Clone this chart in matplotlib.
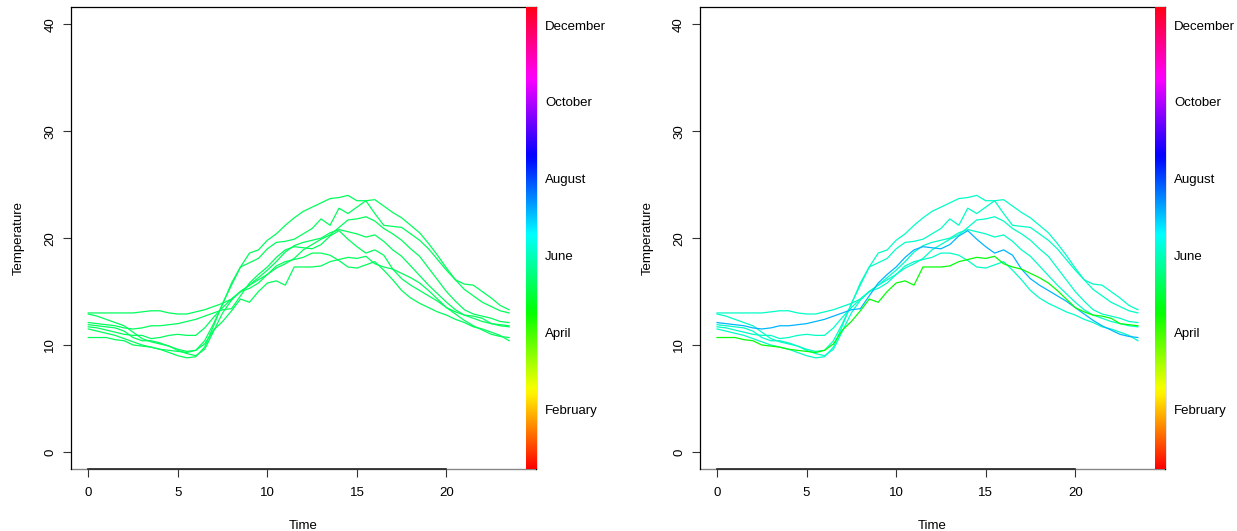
import numpy as np
import matplotlib
matplotlib.use("Agg")
import matplotlib.pyplot as plt

plt.rcParams['font.family'] = ['Liberation Sans', 'DejaVu Sans']

hours = [0.0, 0.5, 1.0, 1.5, 2.0, 2.5, 3.0, 3.5, 4.0, 4.5, 5.0, 5.5,
         6.0, 6.5, 7.0, 7.5, 8.0, 8.5, 9.0, 9.5, 10.0, 10.5, 11.0, 11.5,
         12.0, 12.5, 13.0, 13.5, 14.0, 14.5, 15.0, 15.5, 16.0, 16.5, 17.0, 17.5,
         18.0, 18.5, 19.0, 19.5, 20.0, 20.5, 21.0, 21.5, 22.0, 22.5, 23.0, 23.5]

day1 = [11.5, 11.3, 11.1, 10.9, 10.6, 10.3, 10.0, 9.8, 9.6, 9.3, 9.0, 8.8,
        8.9, 9.8, 11.8, 13.9, 15.6, 17.3, 18.6, 18.9, 19.8, 20.4, 21.2, 21.9,
        22.5, 22.9, 23.3, 23.7, 23.8, 24.0, 23.5, 23.5, 23.6, 23.0, 22.4, 21.9,
        21.2, 20.5, 19.5, 18.4, 17.2, 16.1, 15.7, 15.6, 15.0, 14.4, 13.7, 13.3]
day2 = [12.9, 12.7, 12.4, 12.1, 11.8, 11.2, 10.6, 10.3, 10.1, 9.9, 9.6, 9.4,
        9.5, 10.4, 12.0, 13.8, 15.8, 17.3, 17.7, 18.1, 19.0, 19.6, 19.7, 19.9,
        20.4, 20.9, 21.8, 21.2, 22.8, 22.3, 22.9, 23.5, 22.3, 21.2, 21.1, 21.0,
        20.4, 19.8, 19.0, 18.0, 17.0, 16.1, 15.2, 14.6, 14.0, 13.6, 13.2, 13.0]
day3 = [13.0, 13.0, 13.0, 13.0, 13.0, 13.0, 13.1, 13.2, 13.2, 13.0, 12.9, 12.9,
        13.1, 13.3, 13.6, 13.9, 14.3, 15.0, 15.6, 16.1, 16.6, 17.2, 17.6, 18.1,
        18.9, 19.4, 19.9, 20.3, 21.0, 21.7, 21.8, 22.0, 21.6, 20.9, 20.4, 19.8,
        19.0, 18.3, 17.2, 16.1, 15.0, 14.1, 13.3, 12.9, 12.7, 12.5, 12.2, 12.1]
day4 = [11.9, 11.8, 11.7, 11.6, 11.3, 10.7, 10.4, 10.4, 10.2, 9.9, 9.5, 9.2,
        9.0, 9.6, 11.3, 13.0, 14.2, 15.0, 15.6, 16.3, 17.0, 17.8, 18.7, 19.3,
        19.6, 19.8, 20.0, 20.5, 20.8, 20.6, 20.4, 20.1, 20.3, 19.7, 18.9, 18.3,
        17.4, 16.5, 15.6, 14.8, 14.0, 13.3, 12.8, 12.5, 12.2, 12.0, 11.8, 11.7]
day5 = [11.7, 11.6, 11.4, 11.2, 11.0, 10.9, 10.9, 10.6, 10.7, 10.9, 11.0, 10.9,
        10.9, 11.6, 12.6, 13.5, 14.3, 15.0, 15.3, 15.8, 16.6, 17.4, 17.8, 18.0,
        18.2, 18.6, 18.6, 18.4, 17.9, 17.3, 17.2, 17.5, 17.8, 17.0, 16.1, 15.1,
        14.4, 13.9, 13.5, 13.1, 12.8, 12.4, 12.1, 11.7, 11.5, 11.2, 10.9, 10.4]
day6 = [12.1, 12.0, 11.9, 11.8, 11.6, 11.5, 11.6, 11.8, 11.8, 11.9, 12.0, 12.2,
        12.4, 12.7, 13.0, 13.3, 13.4, 14.6, 15.8, 16.6, 17.3, 18.2, 18.9, 19.2,
        19.1, 19.0, 19.4, 20.2, 20.7, 19.9, 19.2, 18.6, 18.9, 18.4, 17.1, 16.2,
        15.6, 15.1, 14.6, 14.1, 13.5, 12.9, 12.3, 11.8, 11.4, 11.0, 10.8, 10.7]
day7 = [10.7, 10.7, 10.7, 10.5, 10.4, 10.0, 9.9, 9.8, 9.6, 9.5, 9.4, 9.3,
        9.5, 10.1, 11.4, 12.2, 13.2, 14.3, 14.0, 15.0, 15.8, 16.0, 15.6, 17.3,
        17.3, 17.3, 17.4, 17.8, 18.0, 18.2, 18.1, 18.3, 17.6, 17.3, 17.1, 16.7,
        16.3, 15.8, 15.1, 14.3, 13.5, 13.1, 12.8, 12.7, 12.5, 12.0, 11.9, 11.8]

days = [day1, day2, day3, day4, day5, day6, day7]

# position of each curve on the hue scale (0 = bottom red, 1 = top red)
hue_left = [0.40, 0.40, 0.40, 0.40, 0.40, 0.40, 0.40]
hue_right = [0.47, 0.47, 0.47, 0.47, 0.47, 0.555, 0.34]

months = ["February", "April", "June", "August", "October", "December"]
month_num = [2, 4, 6, 8, 10, 12]

cmap = plt.get_cmap('hsv')

fig = plt.figure(figsize=(12.37, 5.31), dpi=100)
ax_l = fig.add_axes([0.0576, 0.1168, 0.3757, 0.8695])
ax_r = fig.add_axes([0.5659, 0.1168, 0.3757, 0.8695])

for ax, hues in [(ax_l, hue_left), (ax_r, hue_right)]:
    for d, h in zip(days, hues):
        ax.plot(hours, d, color=cmap(h), lw=0.9)

    grad = np.linspace(0, 1, 256).reshape(-1, 1)
    ax.imshow(grad, cmap=cmap, origin='lower', aspect='auto',
              extent=(0.978, 1.0, 0.0, 1.0), transform=ax.transAxes,
              zorder=3, interpolation='bilinear')

    ax.set_xlim(-0.95, 25.0)
    ax.set_ylim(-1.6, 41.6)
    ax.set_xticks([0, 5, 10, 15, 20])
    ax.set_yticks([0, 10, 20, 30, 40])
    ax.tick_params(axis='both', length=5.8, width=0.8, labelsize=9.5, color='#333333')
    ax.tick_params(axis='x', pad=7)
    ax.tick_params(axis='y', pad=5)
    for lab in ax.get_yticklabels():
        lab.set_rotation(90)
        lab.set_va('center')

    for s in ['left', 'top', 'right']:
        ax.spines[s].set_linewidth(0.9)
        ax.spines[s].set_color('black')
    ax.spines['bottom'].set_bounds(0, 20)
    ax.spines['bottom'].set_linewidth(1.2)
    ax.spines['bottom'].set_color('#222222')
    ax.axhline(-1.6, color='#888888', lw=1.0, clip_on=False, zorder=2)

    for m, name in zip(month_num, months):
        ax.text(1.02, (m - 0.5) / 12, name, transform=ax.transAxes,
                ha='left', va='center', fontsize=9.5)

    ax.set_xlabel('Time', fontsize=9.5, labelpad=15)
    ax.set_ylabel('Temperature', fontsize=9.5, labelpad=14)

fig.savefig('out.png', dpi=100)
